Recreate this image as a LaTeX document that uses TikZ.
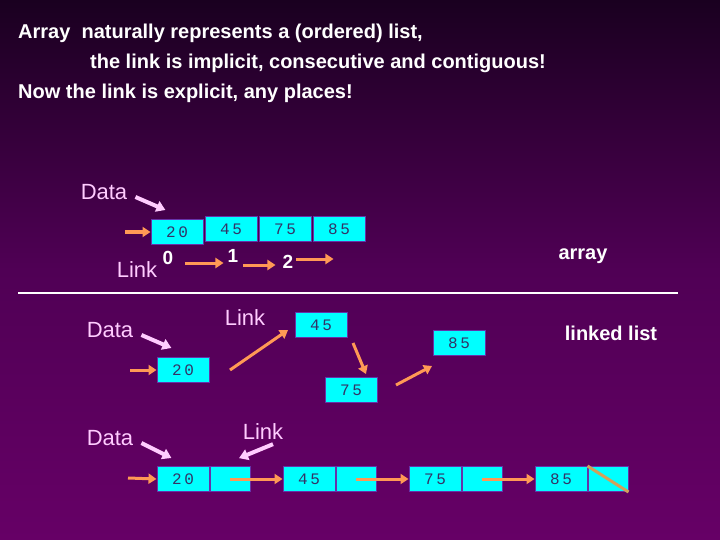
\documentclass[tikz,border=0pt]{standalone}
\usepackage{fontspec}
\setmainfont{Liberation Sans}
\setmonofont{Liberation Mono}
\usetikzlibrary{arrows.meta}
\definecolor{cy}{HTML}{00FFFF}
\definecolor{bd}{HTML}{6633AA}
\definecolor{pk}{HTML}{FFCCFF}
\definecolor{orr}{HTML}{FF9955}
\definecolor{tx}{HTML}{333366}
\tikzset{x=1pt,y=-1pt,
 cell/.style={draw=bd,line width=1pt,fill=cy,minimum width=52pt,minimum height=25pt,inner sep=0pt,font=\ttfamily\fontsize{16}{16}\selectfont,text=tx},
 lcell/.style={cell,minimum width=40pt},
 lbl/.style={text=pk,font=\fontsize{22}{22}\selectfont,inner sep=0pt},
 ttl/.style={text=white,font=\bfseries\fontsize{20}{20}\selectfont,anchor=west,inner sep=0pt},
 idx/.style={text=white,font=\bfseries\fontsize{19}{19}\selectfont,inner sep=0pt},
 big/.style={text=white,font=\bfseries\fontsize{20}{20}\selectfont},
 oa/.style={draw=orr,line width=3pt,-{Triangle[length=8pt,width=10pt]}},
 pa/.style={draw=pk,line width=4pt,-{Triangle[length=9pt,width=11pt]}}}
\begin{document}
\begin{tikzpicture}
\shade[top color={rgb,255:red,26;green,0;blue,32},bottom color={rgb,255:red,102;green,0;blue,102},middle color={rgb,255:red,80;green,0;blue,85}] (0,0) rectangle (720,540);
\useasboundingbox (0,0) rectangle (720,540);
\node[ttl] (t1) at (18,33) {Array\ \ naturally represents a (ordered) list,};
\node[ttl] (t2) at (90,63) {the link is implicit, consecutive and contiguous!};
\node[ttl] (t3) at (18,93) {Now the link is explicit, any places!};
% array
\node[lbl] (d1) at (104,192) {Data};
\node[lbl] (l1) at (137,270) {Link};
\node[cell] (a0) at (177,232) {2\,0};
\node[cell] (a1) at (231,229) {4\,5};
\node[cell] (a2) at (285,229) {7\,5};
\node[cell] (a3) at (339,229) {8\,5};
\node[idx] (i0) at (168,258) {0};
\node[idx] (i1) at (233,256) {1};
\node[idx] (i2) at (288,262) {2};
\coordinate (s0) at (125,232);
\draw[oa] (s0) -- (a0.west);
\draw[oa] (i0.east)++(12,5) -- ++(38,0);
\draw[oa] (i1.east)++(5,9) -- ++(32,0);
\draw[oa] (i2.east)++(3,-3) -- ++(37,0);
\draw[pa] (d1.east)++(8,5) -- ++(30,13);
\node[big] (ar) at (583,256) {array};
\coordinate (h1) at (18,293); \coordinate (h2) at (678,293);
\draw[white,line width=1.2pt] (h1) -- (h2);
% linked list
\node[lbl] (d2) at (110,330) {Data};
\node[lbl] (l2) at (245,318) {Link};
\node[cell] (b20) at (183,370) {2\,0};
\node[cell] (b45) at (321,325) {4\,5};
\node[cell] (b75) at (351,390) {7\,5};
\node[cell] (b85) at (459,343) {8\,5};
\node[big] (ll) at (611,333) {linked list};
\coordinate (s1) at (130,370);
\draw[oa] (s1) -- (b20.west);
\coordinate (c1) at (230,370); \coordinate (c2) at (288,330);
\draw[oa] (c1) -- (c2);
\coordinate (c3) at (353,343); \coordinate (c4) at (366,374);
\draw[oa] (c3) -- (c4);
\coordinate (c5) at (396,385); \coordinate (c6) at (432,366);
\draw[oa] (c5) -- (c6);
\draw[pa] (d2.east)++(8,5) -- ++(30,13);
% bottom
\node[lbl] (d3) at (110,438) {Data};
\node[lbl] (l3) at (263,432) {Link};
\node[cell] (n1) at (183,479) {2\,0};
\node[lcell,anchor=west] (p1) at (n1.east) {};
\node[cell] (n2) at (309,479) {4\,5};
\node[lcell,anchor=west] (p2) at (n2.east) {};
\node[cell] (n3) at (435,479) {7\,5};
\node[lcell,anchor=west] (p3) at (n3.east) {};
\node[cell] (n4) at (561,479) {8\,5};
\node[lcell,anchor=west] (p4) at (n4.east) {};
\coordinate (s2) at (128,478);
\draw[oa] (s2) -- (n1.west);
\draw[oa] (p1.center) -- (n2.west);
\draw[oa] (p2.center) -- (n3.west);
\draw[oa] (p3.center) -- (n4.west);
\draw[draw={rgb,255:red,210;green,160;blue,90},line width=3pt] (p4.north west) -- (p4.south east);
\draw[pa] (d3.east)++(8,5) -- ++(30,15);
\draw[pa] (l3.south)++(10,4) -- ++(-34,14);
\end{tikzpicture}
\end{document}
